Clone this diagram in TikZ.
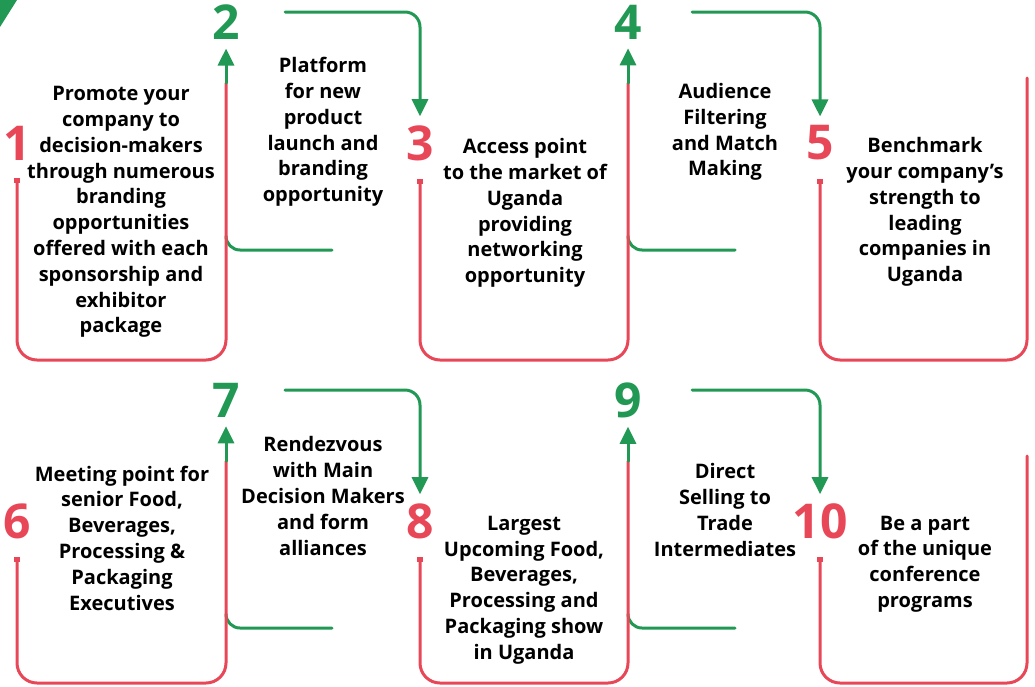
\documentclass[tikz,border=0pt]{standalone}
\usepackage{fontspec}
\setmainfont{Open Sans}
\usetikzlibrary{arrows.meta}
\definecolor{redline}{RGB}{232,71,88}
\definecolor{greenline}{RGB}{33,152,84}

\begin{document}
\begin{tikzpicture}[x=1pt,y=-1pt,line cap=round,line join=round,
  num/.style={font=\fontsize{48}{48}\selectfont\bfseries,inner sep=0pt},
  numred/.style={num,text=redline},
  numgreen/.style={num,text=greenline},
  txt/.style={align=center,font=\fontsize{20}{25.8}\selectfont\bfseries,inner sep=0pt},
  redpath/.style={draw=redline,line width=3pt,rounded corners=20pt},
  startdot/.style={{Square[length=5pt,width=6pt]}-},
  greenarrow/.style={draw=greenline,line width=3pt,-{Triangle[length=17pt,width=16pt]}},
  greenstub/.style={draw=greenline,line width=3pt,rounded corners=14pt}]
\useasboundingbox (0,0) rectangle (1035,686);
\fill[greenline] (0,0) -- (17,0) -- (0,27) -- cycle;

% numbers
\node[numred] (n1) at (17,143) {1};
\node[numgreen] (n2) at (226,22) {2};
\node[numred] (n3) at (420,143) {3};
\node[numgreen] (n4) at (628,22) {4};
\node[numred] (n5) at (820,143) {5};
\node[numred] (n6) at (17,521) {6};
\node[numgreen] (n7) at (226,400) {7};
\node[numred] (n8) at (420,521) {8};
\node[numgreen] (n9) at (628,400) {9};
\node[numred] (n10) at (820,521) {10};

% texts
\node[txt] (t1) at (121,212) {Promote your\\company to\\decision-makers\\through numerous\\branding\\opportunities\\offered with each\\sponsorship and\\exhibitor\\package};
\node[txt] (t2) at (323,132) {Platform\\for new\\product\\launch and\\branding\\opportunity};
\node[txt] (t3) at (525,213) {Access point\\to the market of\\Uganda\\providing\\networking\\opportunity};
\node[txt] (t4) at (725,132) {Audience\\Filtering\\and Match\\Making};
\node[txt] (t5) at (925,212) {Benchmark\\your company’s\\strength to\\leading\\companies in\\Uganda};
\node[txt] (t6) at (122,538) {Meeting point for\\senior Food,\\Beverages,\\Processing \&\\Packaging\\Executives};
\node[txt] (t7) at (323,496) {Rendezvous\\with Main\\Decision Makers\\and form\\alliances};
\node[txt] (t8) at (524,590) {Largest\\Upcoming Food,\\Beverages,\\Processing and\\Packaging show\\in Uganda};
\node[txt] (t9) at (725,510) {Direct\\Selling to\\Trade\\Intermediates};
\node[txt] (t10) at (925,564) {Be a part\\of the unique\\conference\\programs};

% free ends
\coordinate (s23) at (285,12);
\coordinate (s45) at (692,12);
\coordinate (s78) at (285,390);
\coordinate (s910) at (692,390);
\coordinate (g2) at (332,250);
\coordinate (g4) at (735,250);
\coordinate (g7) at (332,628);
\coordinate (g9) at (735,628);

% green stubs
\draw[greenstub] (226,236) -- (226,250) -- (g2);
\draw[greenstub] (628,236) -- (628,250) -- (g4);
\draw[greenstub] (226,614) -- (226,628) -- (g7);
\draw[greenstub] (628,614) -- (628,628) -- (g9);

% row 1
\draw[redpath,startdot] ([yshift=-18pt]n1.south) -- (17,360) -- (226,360) -- (226,83) coordinate (r12);
\draw[greenarrow] (r12) -- ([yshift=-9pt]n2.south);
\draw[greenarrow,rounded corners=15pt] (s23) -- (420,12) -- ([yshift=9pt]n3.north);
\draw[redpath,startdot] ([yshift=-18pt]n3.south) -- (420,360) -- (628,360) -- (628,83) coordinate (r34);
\draw[greenarrow] (r34) -- ([yshift=-9pt]n4.south);
\draw[greenarrow,rounded corners=15pt] (s45) -- (820,12) -- ([yshift=9pt]n5.north);
\draw[redpath,startdot] ([yshift=-18pt]n5.south) -- (820,360) -- (1027,360) -- (1027,78);

% row 2
\draw[redpath,startdot] ([yshift=-18pt]n6.south) -- (17,683) -- (226,683) -- (226,461) coordinate (r67);
\draw[greenarrow] (r67) -- ([yshift=-9pt]n7.south);
\draw[greenarrow,rounded corners=15pt] (s78) -- (420,390) -- ([yshift=9pt]n8.north);
\draw[redpath,startdot] ([yshift=-18pt]n8.south) -- (420,683) -- (628,683) -- (628,461) coordinate (r89);
\draw[greenarrow] (r89) -- ([yshift=-9pt]n9.south);
\draw[greenarrow,rounded corners=15pt] (s910) -- (820,390) -- ([yshift=9pt]n10.north);
\draw[redpath,startdot] ([yshift=-18pt]n10.south) -- (820,683) -- (1027,683) -- (1027,456);
\end{tikzpicture}
\end{document}
